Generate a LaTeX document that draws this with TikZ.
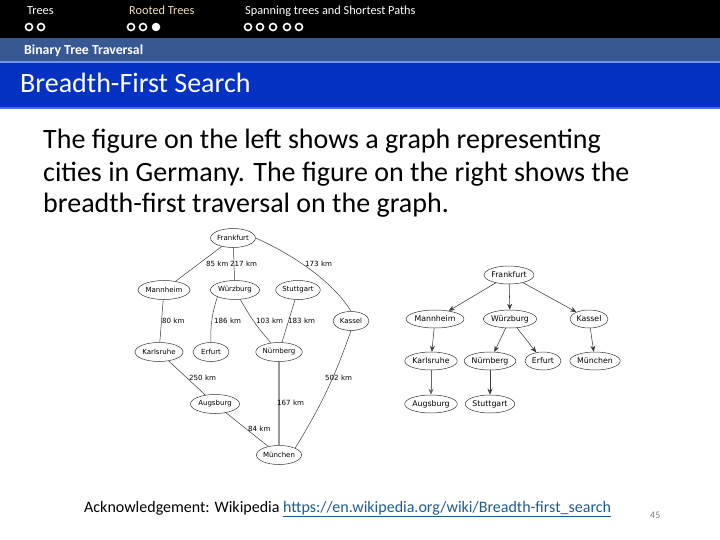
\documentclass[tikz,border=0pt]{standalone}
\usepackage{fontspec}
\setmainfont{Carlito}
\newfontfamily\gfont{DejaVu Sans}
\usetikzlibrary{arrows.meta,shapes.geometric}
\definecolor{band}{RGB}{56,88,148}
\definecolor{bandline}{RGB}{110,150,225}
\definecolor{titlebar}{RGB}{6,50,196}
\definecolor{titleline}{RGB}{70,110,220}
\definecolor{rooted}{RGB}{240,222,196}
\definecolor{linkc}{RGB}{30,92,140}
\definecolor{edgec}{RGB}{60,60,60}
\begin{document}
\begin{tikzpicture}[x=1pt,y=-1pt,
  city/.style={ellipse,draw=black!80,line width=0.5pt,inner sep=0pt,minimum height=19,font=\gfont\fontsize{7}{8}\selectfont},
  rcity/.style={ellipse,draw=black!80,line width=0.5pt,inner sep=0pt,minimum height=18,font=\gfont\fontsize{7.8}{9}\selectfont},
  road/.style={draw=edgec,line width=0.5pt},
  km/.style={anchor=west,inner sep=0pt,font=\gfont\fontsize{7.1}{8}\selectfont},
  tree/.style={draw=edgec,line width=0.55pt,-{Stealth[length=6,width=5]}},
  navtext/.style={anchor=base west,inner sep=0pt,font=\fontsize{12.3}{14}\selectfont},
  dot/.style={circle,draw=white,line width=1.6pt,fill=black,minimum size=7,inner sep=0pt},
  fdot/.style={circle,fill=white,minimum size=8.5,inner sep=0pt}]
\useasboundingbox (0,0) rectangle (720,540);
% header bands
\fill[black] (0,0) rectangle (720,38);
\fill[band] (0,38) rectangle (720,61);
\fill[bandline] (0,61) rectangle (720,63.5);
\fill[titlebar] (0,63.5) rectangle (720,107);
\fill[titleline] (0,107) rectangle (720,109);
% navigation
\node[navtext,text=white] (nav1) at (27,15) {Trees};
\node[navtext,text=rooted] (nav2) at (129,15) {Rooted Trees};
\node[navtext,text=white] (nav3) at (245,15) {Spanning trees and Shortest Paths};
\node[dot] (d1) at (29,27) {};
\node[dot] (d2) at (41,27) {};
\node[dot] (d3) at (131,27) {};
\node[dot] (d4) at (143,27) {};
\node[fdot] (d5) at (156,27) {};
\node[dot] (d6) at (248,27) {};
\node[dot] (d7) at (260,27) {};
\node[dot] (d8) at (273,27) {};
\node[dot] (d9) at (287,27) {};
\node[dot] (d10) at (299,27) {};
\node[anchor=base west,inner sep=0pt,text=white,font=\bfseries\fontsize{13.8}{16}\selectfont] (sub) at (24,55) {Binary Tree Traversal};
\node[anchor=base west,inner sep=0pt,text=white,font=\fontsize{28}{32}\selectfont] (title) at (20,93) {Breadth-First Search};
% body
\node[anchor=base west,inner sep=0pt,align=left,font=\fontsize{28}{32}\selectfont] (body) at (43,213)
  {The figure on the left shows a graph representing\\cities in Germany. The figure on the right shows the\\breadth-first traversal on the graph.};
% left graph
\node[city,minimum width=44] (F) at (233,238) {Frankfurt};
\node[city,minimum width=51] (Ma) at (164,290) {Mannheim};
\node[city,minimum width=49] (W) at (235,290) {Würzburg};
\node[city,minimum width=44] (S) at (298,290) {Stuttgart};
\node[city,minimum width=36] (K) at (351,321) {Kassel};
\node[city,minimum width=48] (Ka) at (159,352) {Karlsruhe};
\node[city,minimum width=36] (E) at (211,352) {Erfurt};
\node[city,minimum width=44] (N) at (279,352) {Nürnberg};
\node[city,minimum width=49] (A) at (215,404) {Augsburg};
\node[city,minimum width=44] (Mu) at (279,455) {München};
\draw[road] (F) -- (Ma);
\draw[road] (F) -- (W);
\draw[road] (F.east) .. controls (300,258) and (335,285) .. (K.north);
\draw[road] (Ma) -- (Ka);
\draw[road] (W.south west) .. controls (212,312) and (210,330) .. (E.north);
\draw[road] (W) to[bend right=6] (N);
\draw[road] (S) -- (N);
\draw[road] (Ka) -- (A);
\draw[draw=black!40,line width=1.3pt] (N) -- (Mu);
\draw[road] (A) -- (Mu);
\draw[road] (K.south) to[bend left=6] (Mu.north east);
\node[km] (l1) at (206,264) {85 km};
\node[km] (l2) at (230,264) {217 km};
\node[km] (l3) at (305,264) {173 km};
\node[km] (l4) at (162,321) {80 km};
\node[km] (l5) at (214,321) {186 km};
\node[km] (l6) at (256,321) {103 km};
\node[km] (l7) at (288,321) {183 km};
\node[km] (l8) at (189,378) {250 km};
\node[km] (l9) at (277,403) {167 km};
\node[km] (l10) at (248,429) {84 km};
\node[km] (l11) at (325,378) {502 km};
% right tree
\node[rcity,minimum width=45] (rF) at (509,275) {Frankfurt};
\node[rcity,minimum width=54] (rMa) at (435,319) {Mannheim};
\node[rcity,minimum width=52] (rW) at (510,319) {Würzburg};
\node[rcity,minimum width=38] (rK) at (589,319) {Kassel};
\node[rcity,minimum width=48] (rKa) at (431,361) {Karlsruhe};
\node[rcity,minimum width=46] (rN) at (490,361) {Nürnberg};
\node[rcity,minimum width=36] (rE) at (543,361) {Erfurt};
\node[rcity,minimum width=48] (rMu) at (595,361) {München};
\node[rcity,minimum width=46] (rA) at (431,404) {Augsburg};
\node[rcity,minimum width=42] (rS) at (490,404) {Stuttgart};
\draw[tree] (rF) -- (rMa);
\draw[tree] (rF) -- (rW);
\draw[tree] (rF) -- (rK);
\draw[tree] (rMa) -- (rKa);
\draw[tree] (rW) -- (rN);
\draw[tree] (rW) -- (rE);
\draw[tree] (rK) -- (rMu);
\draw[tree,draw=black!60,line width=1pt] (rKa) -- (rA);
\draw[tree] (rN) -- (rS);
% footer
\node[anchor=base west,inner sep=0pt,font=\fontsize{16}{18}\selectfont] (ack) at (84,512)
  {Acknowledgement: Wikipedia \textcolor{linkc}{\underline{https://en.wikipedia.org/wiki/Breadth-first\_search}}};
\node[anchor=base west,inner sep=0pt,text=black!50,font=\fontsize{10}{12}\selectfont] (pg) at (650,518) {45};
\end{tikzpicture}
\end{document}
